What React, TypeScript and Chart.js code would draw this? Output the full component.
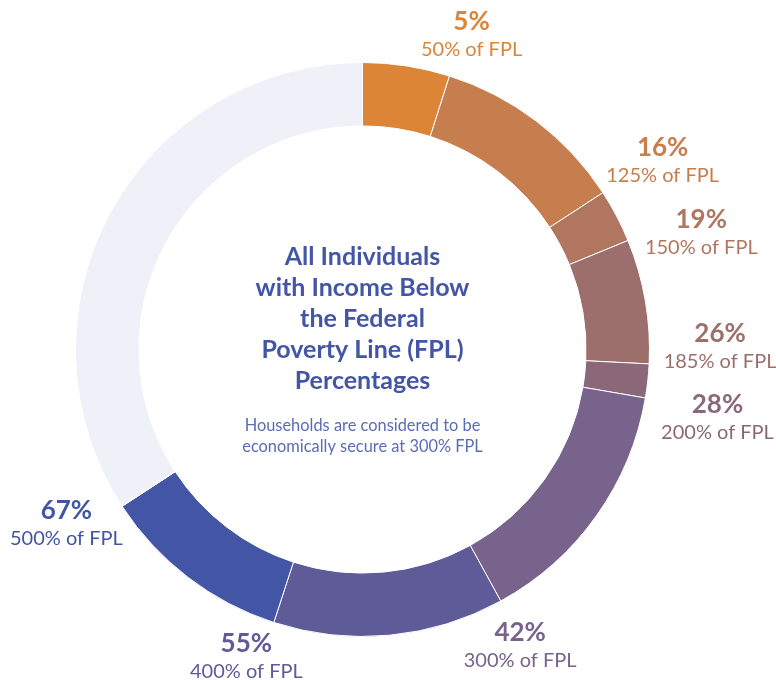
import React, { useEffect, useRef } from "react";
import { Chart, registerables } from "chart.js";

Chart.register(...registerables);

// ---- data ----
const categories = [
  "50% of FPL",
  "125% of FPL",
  "150% of FPL",
  "185% of FPL",
  "200% of FPL",
  "300% of FPL",
  "400% of FPL",
  "500% of FPL",
  "Above 500% of FPL",
];
const segmentValues = [4.9, 10.9, 3.0, 7.0, 1.9, 14.3, 13.0, 10.8, 34.2];
const cumulativeLabels = ["5%", "16%", "19%", "26%", "28%", "42%", "55%", "67%"];
const titleLines = [
  "All Individuals",
  "with Income Below",
  "the Federal",
  "Poverty Line (FPL)",
  "Percentages",
];
const subtitleLines = [
  "Households are considered to be",
  "economically secure at 300% FPL",
];

// ---- styles / layout ----
const segmentColors = [
  "#DC8536",
  "#C77E4E",
  "#B07660",
  "#9C6F6C",
  "#8A6779",
  "#77638B",
  "#5E5B98",
  "#4356A5",
  "#F0F1F8",
];
const labelNudges = [
  [3, -11],
  [7, -15],
  [15, 4],
  [8, -19],
  [10, 14],
  [-11, 16],
  [-8, 4],
  [-3, 0],
];

const textPlugin = {
  id: "ringText",
  afterDraw(chart: any) {
    const ctx = chart.ctx as CanvasRenderingContext2D;
    const meta = chart.getDatasetMeta(0);
    const first = meta.data[0] as any;
    const { x: cx, y: cy, outerRadius } = first.getProps(["x", "y", "outerRadius"], true);
    ctx.save();
    ctx.textAlign = "center";
    ctx.textBaseline = "alphabetic";

    ctx.fillStyle = "#4355A5";
    ctx.font = "bold 25px Lato";
    titleLines.forEach((t, i) => ctx.fillText(t, cx, cy - 84.5 + i * 31));

    ctx.fillStyle = "#5B6CB6";
    ctx.font = "16.4px Lato";
    subtitleLines.forEach((t, i) => ctx.fillText(t, cx, cy + 81.5 + i * 21));

    cumulativeLabels.forEach((lab, i) => {
      const el = meta.data[i] as any;
      const { endAngle } = el.getProps(["endAngle"], true);
      const ux = Math.cos(endAngle);
      const uy = Math.sin(endAngle);
      const bx = cx + (outerRadius + 10 + 53) * ux + labelNudges[i][0];
      const by = cy + (outerRadius + 10 + 22) * uy + labelNudges[i][1];
      ctx.fillStyle = segmentColors[i];
      ctx.font = "bold 26px Lato";
      ctx.fillText(lab, bx, by - 4.5);
      ctx.font = "20px Lato";
      ctx.fillText(categories[i], bx, by + 21.5);
    });
    ctx.restore();
  },
};

export default function App() {
  const ref = useRef<HTMLCanvasElement | null>(null);
  useEffect(() => {
    if (!ref.current) return;
    const chart = new Chart(ref.current, {
      type: "doughnut",
      data: {
        labels: categories,
        datasets: [
          {
            data: segmentValues,
            backgroundColor: segmentColors,
            borderColor: "#ffffff",
            borderWidth: 1,
          },
        ],
      },
      options: {
        responsive: false,
        animation: false,
        events: [],
        cutout: "77.9%",
        layout: { padding: { left: 75, top: 62, right: 126, bottom: 43 } },
        plugins: {
          legend: { display: false },
          tooltip: { enabled: false },
        },
      },
      plugins: [textPlugin],
    });
    const fonts = (document as any).fonts;
    if (fonts && fonts.load) {
      Promise.all([fonts.load("bold 25px Lato"), fonts.load("20px Lato")]).then(() => chart.draw());
    }
    return () => chart.destroy();
  }, []);
  return (
    <div style={{ position: "absolute", left: 0, top: 0, width: 776, height: 680, background: "#fff" }}>
      <canvas ref={ref} width={776} height={680} />
    </div>
  );
}
